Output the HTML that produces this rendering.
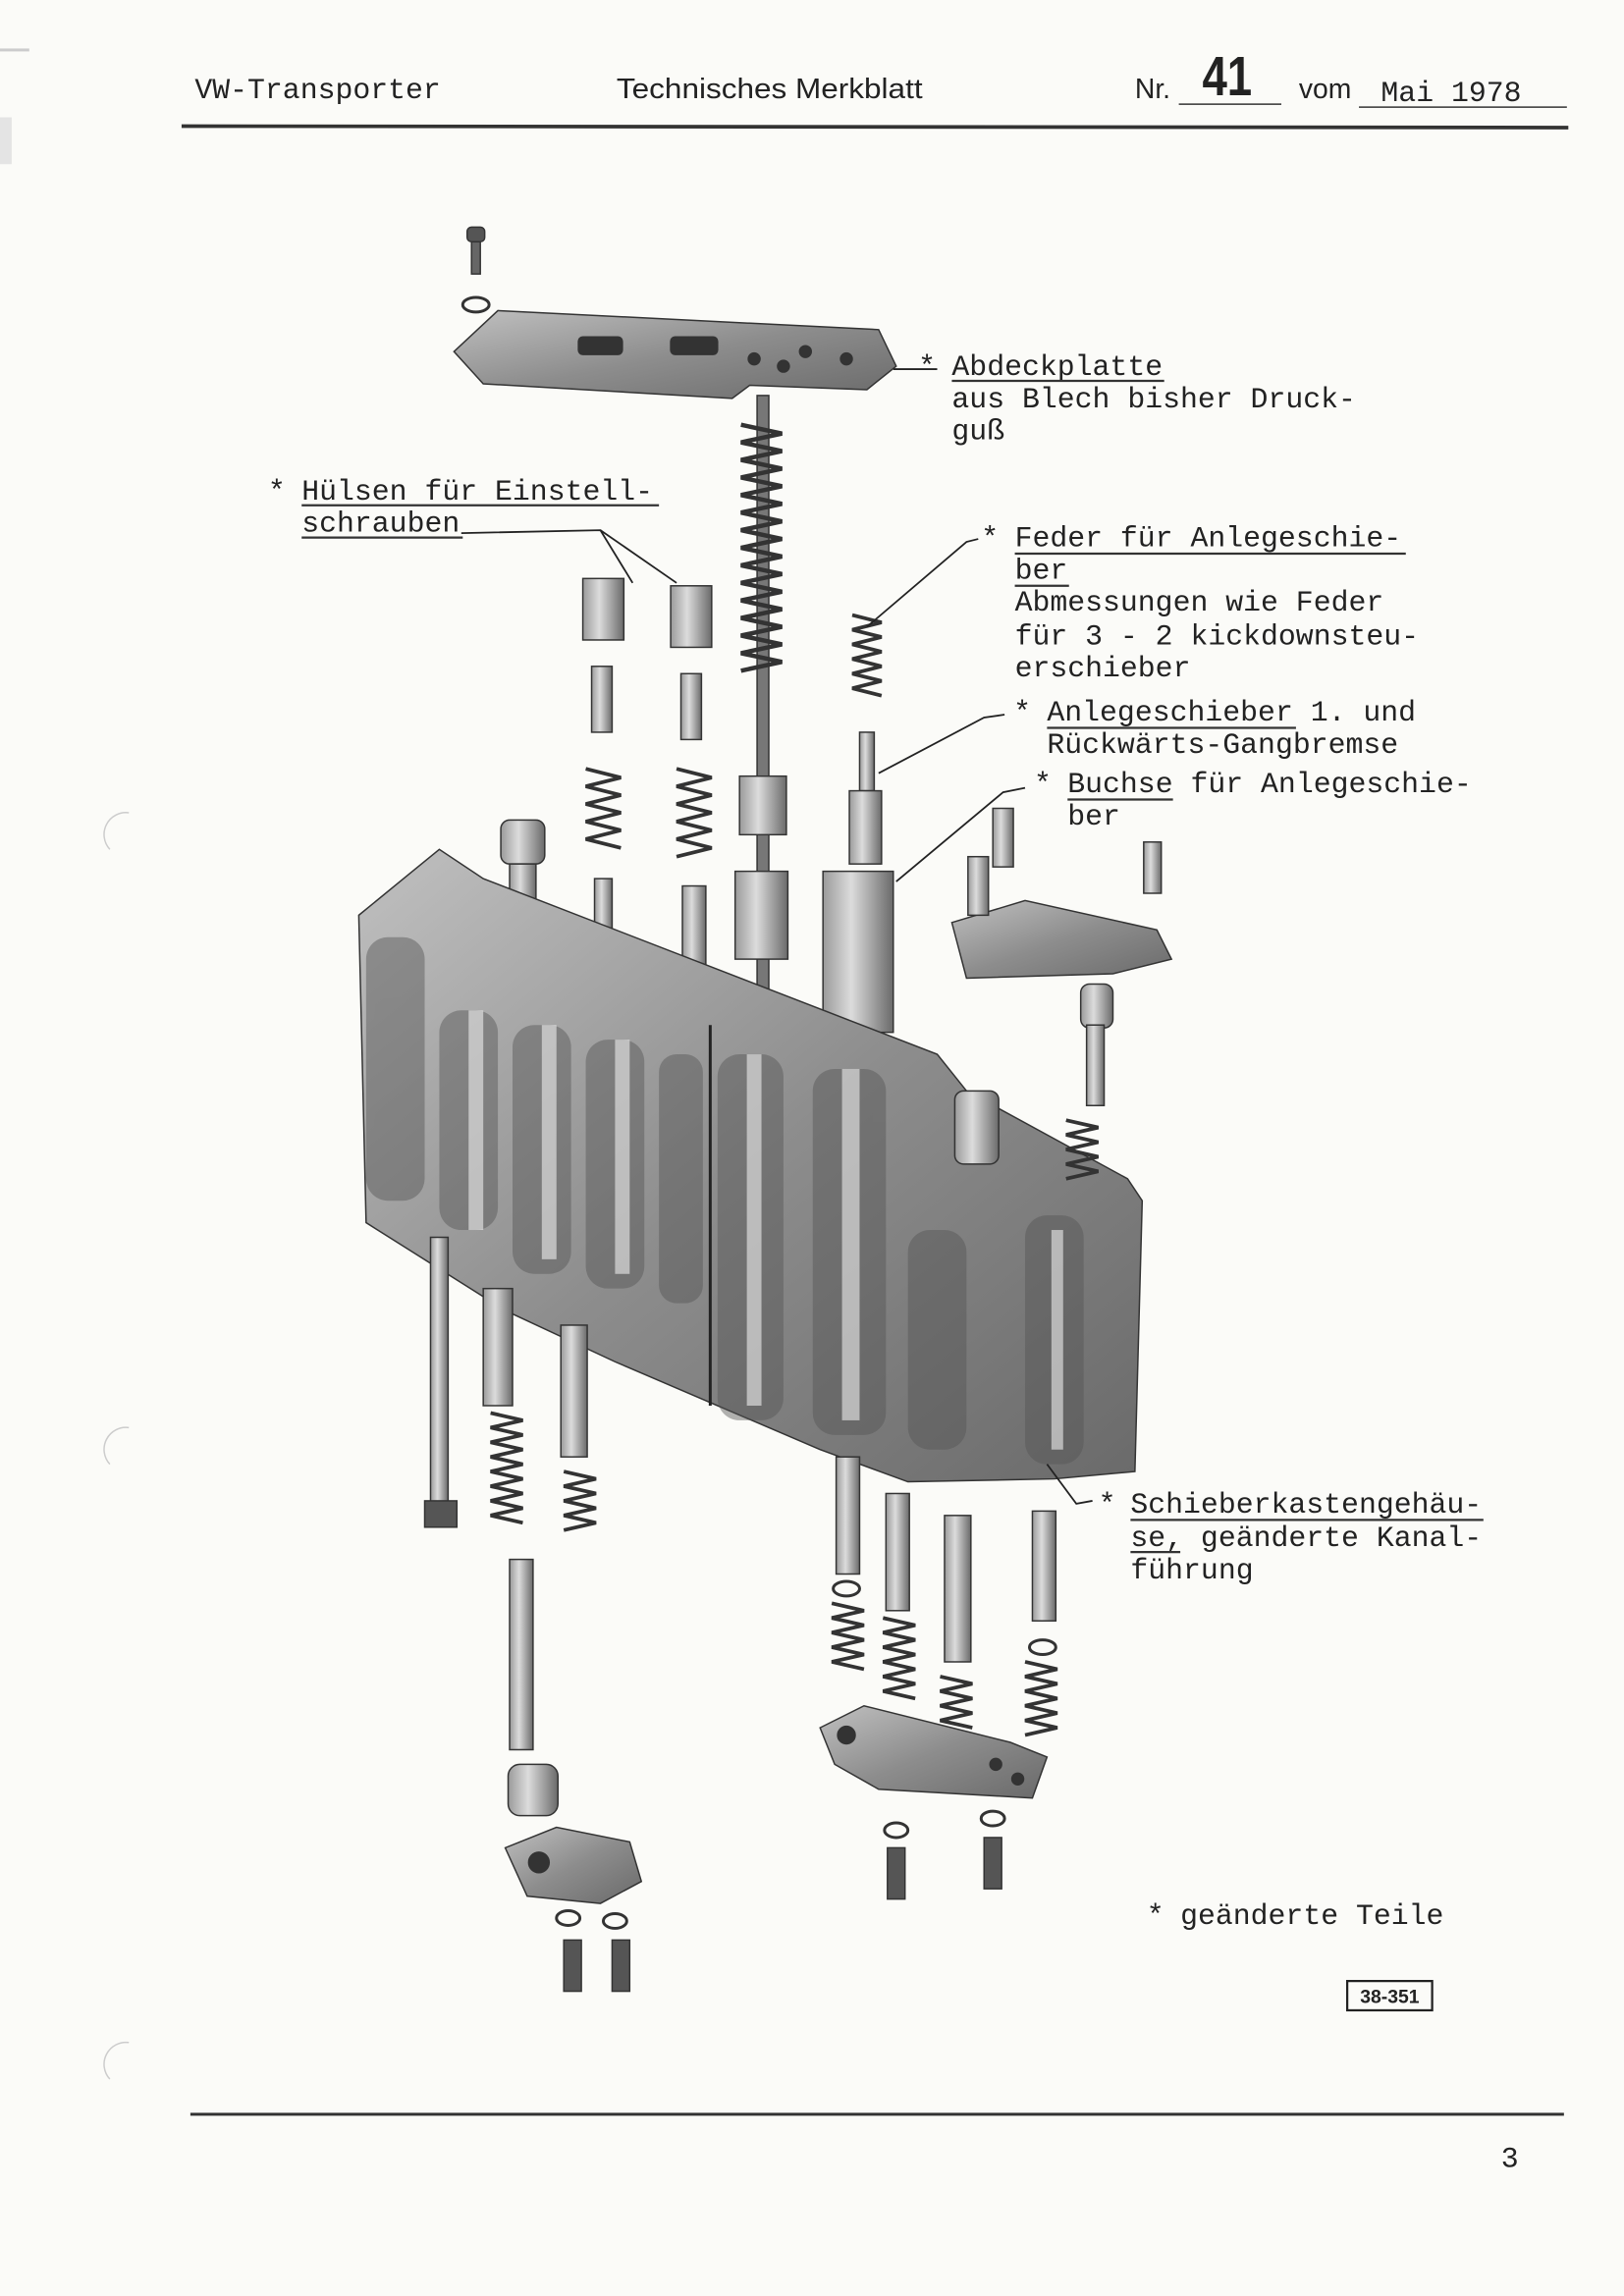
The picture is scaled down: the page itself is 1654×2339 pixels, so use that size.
<!DOCTYPE html>
<html><head><meta charset="utf-8"><style>
html,body{margin:0;padding:0;background:#fbfbf8;}
svg{display:block}
.m{font-family:"Liberation Mono",monospace;font-size:20px;fill:#222}
.s{font-family:"Liberation Sans",sans-serif;fill:#222}
</style></head><body>
<svg width="1654" height="2339" viewBox="0 0 1109 1568" xmlns="http://www.w3.org/2000/svg">
<defs>
<linearGradient id="g" x1="0" x2="1"><stop offset="0" stop-color="#9a9a9a"/><stop offset="0.4" stop-color="#dcdcdc"/><stop offset="1" stop-color="#6a6a6a"/></linearGradient>
<linearGradient id="b" x1="0" y1="0" x2="1" y2="1"><stop offset="0" stop-color="#c0c0c0"/><stop offset="0.5" stop-color="#8d8d8d"/><stop offset="1" stop-color="#6a6a6a"/></linearGradient>
</defs>
<rect width="1109" height="1568" fill="#fbfbf8"/>
<rect x="0" y="33" width="20" height="2" fill="#ccc"/><rect x="0" y="80" width="8" height="32" fill="#e4e4e4"/>
<path d="M88 555 A15 15 0 0 0 75 580" stroke="#ccc" fill="none"/><path d="M88 975 A15 15 0 0 0 75 1000" stroke="#ccc" fill="none"/><path d="M88 1395 A15 15 0 0 0 75 1420" stroke="#ccc" fill="none"/>
<!-- header -->
<text class="m" x="133" y="67">VW-Transporter</text>
<text class="s" x="421" y="67" font-size="19" textLength="209" lengthAdjust="spacingAndGlyphs">Technisches Merkblatt</text>
<text class="s" x="775" y="67" font-size="19">Nr.</text>
<text class="s" x="821" y="65" font-size="38" font-weight="bold" textLength="34" lengthAdjust="spacingAndGlyphs">41</text>
<line x1="805" y1="71" x2="875" y2="71" stroke="#333" stroke-width="1"/>
<text class="s" x="887" y="67" font-size="19">vom</text>
<text class="m" x="943" y="69">Mai 1978</text>
<line x1="928" y1="73" x2="1070" y2="73" stroke="#333" stroke-width="1"/>
<line x1="124" y1="86" x2="1071" y2="87" stroke="#333" stroke-width="2.5"/>
<!-- diagram -->
<g stroke="#333" stroke-width="1">
<rect x="319" y="155" width="12" height="10" rx="3" fill="#555"/><rect x="322" y="165" width="6" height="22" fill="#666"/>
<ellipse cx="325" cy="208" rx="9" ry="5" fill="none" stroke-width="2"/>
<polygon points="310,240 340,212 600,225 612,250 592,266 512,263 500,272 330,262" fill="url(#b)"/>
<g fill="#333"><rect x="395" y="230" width="30" height="12" rx="3"/><rect x="458" y="230" width="32" height="12" rx="3"/><circle cx="515" cy="245" r="4"/><circle cx="535" cy="250" r="4"/><circle cx="550" cy="240" r="4"/><circle cx="578" cy="245" r="4"/></g>
<rect x="517" y="270" width="8" height="430" fill="#777"/>
<path d="M506 290 L534 296 L506 302 L534 308 L506 314 L534 320 L506 326 L534 332 L506 338 L534 344 L506 350 L534 356 L506 362 L534 368 L506 374 L534 380 L506 386 L534 392 L506 398 L534 404 L506 410 L534 416 L506 422 L534 428 L506 434 L534 440 L506 446 L534 452 L506 458" fill="none" stroke="#333" stroke-width="3"/>
<rect x="505" y="530" width="32" height="40" fill="url(#g)"/><rect x="502" y="595" width="36" height="60" fill="url(#g)"/>
<rect x="398" y="395" width="28" height="42" fill="url(#g)"/><rect x="458" y="400" width="28" height="42" fill="url(#g)"/>
<rect x="404" y="455" width="14" height="45" fill="url(#g)"/><rect x="465" y="460" width="14" height="45" fill="url(#g)"/>
<path d="M400 525 L424 531 L400 537 L424 543 L400 549 L424 555 L400 561 L424 567 L400 573 L424 579" fill="none" stroke-width="2.5"/>
<path d="M462 525 L486 531 L462 537 L486 543 L462 549 L486 555 L462 561 L486 567 L462 573 L486 579 L462 585" fill="none" stroke-width="2.5"/>
<rect x="406" y="600" width="12" height="70" fill="url(#g)"/><rect x="466" y="605" width="16" height="80" fill="url(#g)"/>
<path d="M582 420 L602 425 L582 430 L602 435 L582 440 L602 445 L582 450 L602 455 L582 460 L602 465 L582 470 L602 475" fill="none" stroke-width="2.5"/>
<rect x="587" y="500" width="10" height="40" fill="url(#g)"/><rect x="580" y="540" width="22" height="50" fill="url(#g)"/>
<rect x="562" y="595" width="48" height="110" fill="url(#g)"/>
<rect x="342" y="560" width="30" height="30" rx="6" fill="url(#g)"/><rect x="348" y="590" width="18" height="70" fill="url(#g)"/>
<polygon points="245,625 300,580 330,600 640,720 660,745 770,805 780,820 775,1005 720,1010 620,1012 560,990 420,930 345,895 250,835" fill="url(#b)"/>
<g fill="#555" stroke="none" opacity="0.45">
<rect x="300" y="690" width="40" height="150" rx="15"/><rect x="350" y="700" width="40" height="170" rx="15"/><rect x="400" y="710" width="40" height="170" rx="15"/><rect x="450" y="720" width="30" height="170" rx="12"/><rect x="490" y="720" width="45" height="250" rx="15"/><rect x="555" y="730" width="50" height="250" rx="15"/>
<rect x="250" y="640" width="40" height="180" rx="15"/><rect x="620" y="840" width="40" height="150" rx="15"/><rect x="700" y="830" width="40" height="170" rx="15"/>
</g>
<g fill="#eee" stroke="none" opacity="0.6"><rect x="320" y="690" width="10" height="150"/><rect x="370" y="700" width="10" height="160"/><rect x="420" y="710" width="10" height="160"/><rect x="510" y="720" width="10" height="240"/><rect x="575" y="730" width="12" height="240"/><rect x="718" y="840" width="8" height="150"/></g>
<line x1="485" y1="700" x2="485" y2="960" stroke="#222" stroke-width="2"/>
<rect x="652" y="745" width="30" height="50" rx="6" fill="url(#g)"/>
<polygon points="650,630 700,615 790,635 800,655 760,665 660,668" fill="url(#b)"/>
<rect x="678" y="552" width="14" height="40" fill="url(#g)"/><rect x="661" y="585" width="14" height="40" fill="url(#g)"/><rect x="781" y="575" width="12" height="35" fill="url(#g)"/>
<rect x="738" y="672" width="22" height="30" rx="6" fill="url(#g)"/><rect x="742" y="700" width="12" height="55" fill="url(#g)"/>
<path d="M728 765 L750 770 L728 775 L750 780 L728 785 L750 790 L728 795 L750 800 L728 805" fill="none" stroke-width="2.5"/>
<rect x="294" y="845" width="12" height="195" fill="url(#g)"/><rect x="290" y="1025" width="22" height="18" fill="#555"/>
<rect x="330" y="880" width="20" height="80" fill="url(#g)"/>
<path d="M335 965 L357 970 L335 975 L357 980 L335 985 L357 990 L335 995 L357 1000 L335 1005 L357 1010 L335 1015 L357 1020 L335 1025 L357 1030 L335 1035 L357 1040" fill="none" stroke-width="2.5"/>
<rect x="383" y="905" width="18" height="90" fill="url(#g)"/>
<path d="M385 1005 L407 1010 L385 1015 L407 1020 L385 1025 L407 1030 L385 1035 L407 1040 L385 1045" fill="none" stroke-width="2.5"/>
<rect x="348" y="1065" width="16" height="130" fill="url(#g)"/>
<rect x="347" y="1205" width="34" height="35" rx="8" fill="url(#g)"/>
<polygon points="345,1262 380,1248 430,1258 438,1285 410,1300 360,1295" fill="url(#b)"/>
<circle cx="368" cy="1272" r="7" fill="#333"/>
<ellipse cx="388" cy="1310" rx="8" ry="5" fill="none" stroke-width="2"/><ellipse cx="420" cy="1312" rx="8" ry="5" fill="none" stroke-width="2"/>
<rect x="385" y="1325" width="12" height="35" fill="#555"/><rect x="418" y="1325" width="12" height="35" fill="#555"/>
<rect x="571" y="995" width="16" height="80" fill="url(#g)"/><ellipse cx="578" cy="1085" rx="9" ry="5" fill="none" stroke-width="2"/>
<path d="M568 1095 L590 1100 L568 1105 L590 1110 L568 1115 L590 1120 L568 1125 L590 1130 L568 1135 L590 1140" fill="none" stroke-width="2.5"/>
<rect x="605" y="1020" width="16" height="80" fill="url(#g)"/>
<path d="M603 1105 L625 1110 L603 1115 L625 1120 L603 1125 L625 1130 L603 1135 L625 1140 L603 1145 L625 1150 L603 1155 L625 1160" fill="none" stroke-width="2.5"/>
<rect x="645" y="1035" width="18" height="100" fill="url(#g)"/>
<path d="M642 1145 L664 1150 L642 1155 L664 1160 L642 1165 L664 1170 L642 1175 L664 1180" fill="none" stroke-width="2.5"/>
<rect x="705" y="1032" width="16" height="75" fill="url(#g)"/><ellipse cx="712" cy="1125" rx="9" ry="5" fill="none" stroke-width="2"/>
<path d="M700 1135 L722 1140 L700 1145 L722 1150 L700 1155 L722 1160 L700 1165 L722 1170 L700 1175 L722 1180 L700 1185" fill="none" stroke-width="2.5"/>
<polygon points="560,1180 590,1165 690,1190 715,1200 705,1228 600,1222 570,1205" fill="url(#b)"/>
<circle cx="578" cy="1185" r="6" fill="#333"/><circle cx="680" cy="1205" r="4" fill="#333"/><circle cx="695" cy="1215" r="4" fill="#333"/>
<ellipse cx="612" cy="1250" rx="8" ry="5" fill="none" stroke-width="2"/><ellipse cx="678" cy="1242" rx="8" ry="5" fill="none" stroke-width="2"/>
<rect x="606" y="1262" width="12" height="35" fill="#555"/><rect x="672" y="1255" width="12" height="35" fill="#555"/>
</g>
<g stroke="#222" stroke-width="1.2" fill="none">
<polyline points="610,252 640,252"/>
<polyline points="315,364 410,362 432,398"/><line x1="410" y1="362" x2="462" y2="398"/>
<polyline points="668,368 660,370 592,428"/>
<polyline points="686,488 672,490 600,528"/>
<polyline points="700,538 685,541 612,602"/>
<polyline points="746,1025 735,1027 715,1000"/>
</g>
<g class="m">
<text x="627" y="256">*</text><text x="650" y="256">Abdeckplatte</text>
<text x="650" y="278">aus Blech bisher Druck-</text>
<text x="650" y="300">guß</text>
<text x="183" y="341">*</text><text x="206" y="341">Hülsen für Einstell-</text>
<text x="206" y="363">schrauben</text>
<text x="670" y="373">*</text><text x="693" y="373">Feder für Anlegeschie-</text>
<text x="693" y="395">ber</text>
<text x="693" y="417">Abmessungen wie Feder</text>
<text x="693" y="440">für 3 - 2 kickdownsteu-</text>
<text x="693" y="462">erschieber</text>
<text x="692" y="492">*</text><text x="715" y="492">Anlegeschieber 1. und</text>
<text x="715" y="514">Rückwärts-Gangbremse</text>
<text x="706" y="541">*</text><text x="729" y="541">Buchse für Anlegeschie-</text>
<text x="729" y="563">ber</text>
<text x="750" y="1033">*</text><text x="772" y="1033">Schieberkastengehäu-</text>
<text x="772" y="1056">se, geänderte Kanal-</text>
<text x="772" y="1078">führung</text>
<text x="783" y="1314">*</text><text x="806" y="1314">geänderte Teile</text>
</g>
<g stroke="#333" stroke-width="1.5">
<line x1="650" y1="260" x2="795" y2="260"/>
<line x1="206" y1="345" x2="450" y2="345"/><line x1="206" y1="367" x2="316" y2="367"/>
<line x1="693" y1="378" x2="960" y2="378"/><line x1="693" y1="400" x2="730" y2="400"/>
<line x1="715" y1="497" x2="885" y2="497"/>
<line x1="729" y1="546" x2="801" y2="546"/>
<line x1="772" y1="1038" x2="1013" y2="1038"/><line x1="772" y1="1060" x2="806" y2="1060"/>
</g>
<rect x="920" y="1353" width="58" height="20" fill="none" stroke="#222" stroke-width="1.5"/>
<text class="s" x="949" y="1368" font-size="13" font-weight="bold" text-anchor="middle">38-351</text>
<line x1="130" y1="1444" x2="1068" y2="1444" stroke="#333" stroke-width="2"/>
<text class="m" x="1025" y="1480">3</text>
</svg>
</body></html>
